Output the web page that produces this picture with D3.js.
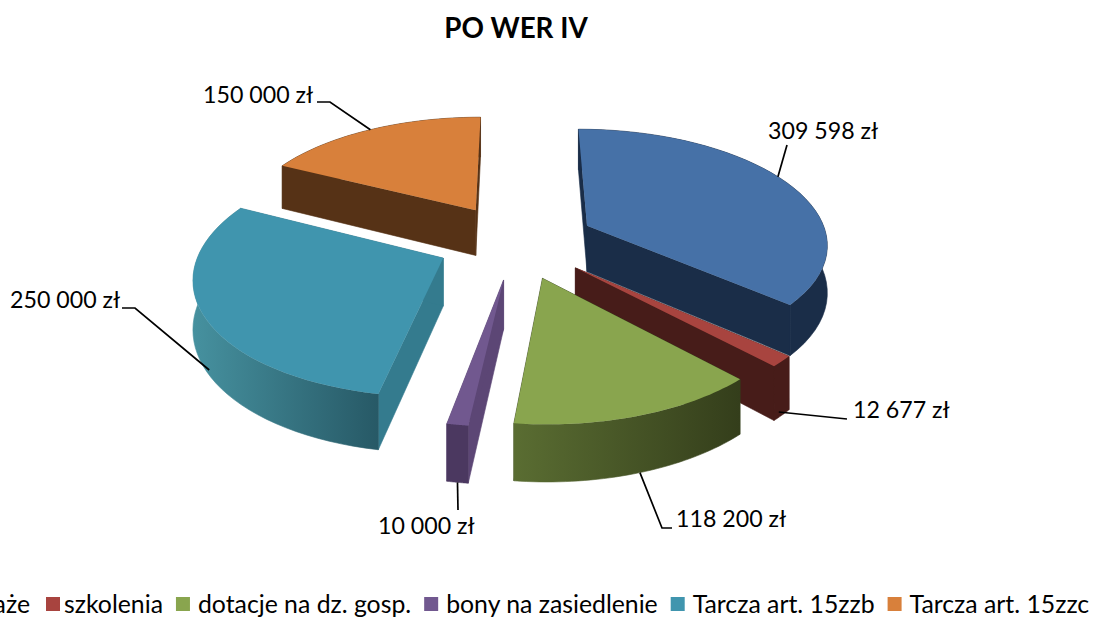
<!DOCTYPE html>
<html><head><meta charset="utf-8">
<script src="https://cdnjs.cloudflare.com/ajax/libs/d3/7.8.5/d3.min.js"></script>
<style>html,body{margin:0;padding:0;background:#fff;overflow:hidden}svg{display:block}text{font-family:Lato,"Open Sans",sans-serif;fill:#000}</style>
</head><body><svg id="c" width="1093" height="617"></svg>
<script>
const title = "PO WER IV";
const categories = ["staże","szkolenia","dotacje na dz. gosp.","bony na zasiedlenie","Tarcza art. 15zzb","Tarcza art. 15zzc"];
const values = [309598,12677,118200,10000,250000,150000];
const valueLabels = ["309 598 zł","12 677 zł","118 200 zł","10 000 zł","250 000 zł","150 000 zł"];
const topColors = ["#4671a7","#a8443f","#89a54e","#71588f","#4095ae","#d8803b"];
const cutColors = ["#1a2d48","#471c19","#36421c","#5c4675","#347b8e","#563216"];
const wallFrom  = ["#1a2d48","#471c19","#5a6d32","#4b3860","#46919f","#563216"];
const wallTo    = ["#1a2d48","#471c19","#343e1b","#4b3860","#275966","#563216"];
const drawOrder = [5,0,1,4,3,2];

const W=1093,H=617,cx=516,cy=241,R=241,Ty=114,k=0.14,Dz=47,explode=0.33;
const svg=d3.select("#c"), defs=svg.append("defs");
const pie=d3.pie().sort(null).value(d=>d);
const arcs=pie(values);
const rx=d3.scaleLinear().domain([0,1]).range([0,R]);
function project(a,r,expl,z){
  const u=Math.sin(a)*r+Math.sin(expl)*explode, v=-Math.cos(a)*r-Math.cos(expl)*explode;
  const s=1/(1-k*v);
  return [cx+rx(u)*s, cy+Ty*v*s+Dz*z*s];
}
const line=d3.line();
function poly(pts){return line(pts)+"Z";}
arcs.forEach(d=>{d.mid=(d.startAngle+d.endAngle)/2;});
drawOrder.forEach(i=>{
  const d=arcs[i], g=svg.append("g");
  const samples=d3.range(0,41).map(t=>d.startAngle+(d.endAngle-d.startAngle)*t/40);
  const P=(a,r,z)=>project(a,r,d.mid,z);
  [d.startAngle,d.endAngle].forEach(a=>{
    g.append("path").attr("d",poly([P(a,0,0),P(a,1,0),P(a,1,1),P(a,0,1)])).attr("fill",cutColors[i]).attr("stroke",cutColors[i]).attr("stroke-width",.6);
  });
  const top=samples.map(a=>P(a,1,0)), bot=samples.map(a=>P(a,1,1)).reverse();
  const xs=top.map(p=>p[0]);
  const gid="w"+i;
  const lg=defs.append("linearGradient").attr("id",gid).attr("gradientUnits","userSpaceOnUse")
    .attr("x1",d3.min(xs)).attr("x2",d3.max(xs)).attr("y1",0).attr("y2",0);
  lg.append("stop").attr("offset",0).attr("stop-color",wallFrom[i]);
  lg.append("stop").attr("offset",1).attr("stop-color",wallTo[i]);
  g.append("path").attr("d",poly(top.concat(bot))).attr("fill",`url(#${gid})`).attr("stroke",`url(#${gid})`).attr("stroke-width",.6);
  g.append("path").attr("d",poly([P(d.startAngle,0,0)].concat(top))).attr("fill",topColors[i]);
});

const labelLayout=[
 {x:768,y:139,frac:.47,z:0,pts:[[787,145]]},
 {x:853,y:418,frac:.7,z:.9,pts:[[847,419]]},
 {x:676,y:527,frac:.5,z:1,pts:[[662,528],[672,528]]},
 {x:378,y:534,frac:.5,z:1,pts:[[458,510]]},
 {x:10,y:308,frac:.46,z:.9,pts:[[135,308],[122,308]]},
 {x:203,y:103,frac:.5,z:0,pts:[[330,102],[317,102]]}
];
arcs.forEach((d,i)=>{
  const L=labelLayout[i];
  const a=d.startAngle+(d.endAngle-d.startAngle)*L.frac;
  const start=project(a,1,d.mid,L.z);
  svg.append("path").attr("d",line([start].concat(L.pts))).attr("fill","none").attr("stroke","#000").attr("stroke-width",1.7);
  svg.append("text").attr("x",L.x).attr("y",L.y).attr("font-size",23.2).text(valueLabels[i]);
});
svg.append("text").attr("x",516).attr("y",38).attr("text-anchor","middle").attr("font-size",27.8).attr("font-weight",700).text(title);

const legendEnd=30, legendSize=24.8;
const legendTextOffset=[18,18,22,22,22,22], legendGap=[16,13,13,13,13,13];
let lx=0;
categories.forEach((c,i)=>{
  const t=svg.append("text").attr("y",613).attr("font-size",legendSize).text(c);
  const w=t.node().getComputedTextLength();
  if(i===0) lx=legendEnd-w-legendTextOffset[0];
  t.attr("x",lx+legendTextOffset[i]);
  svg.append("rect").attr("x",lx).attr("y",597).attr("width",14).attr("height",14).attr("fill",topColors[i]);
  lx+=legendTextOffset[i]+w+legendGap[i];
});
</script></body></html>
